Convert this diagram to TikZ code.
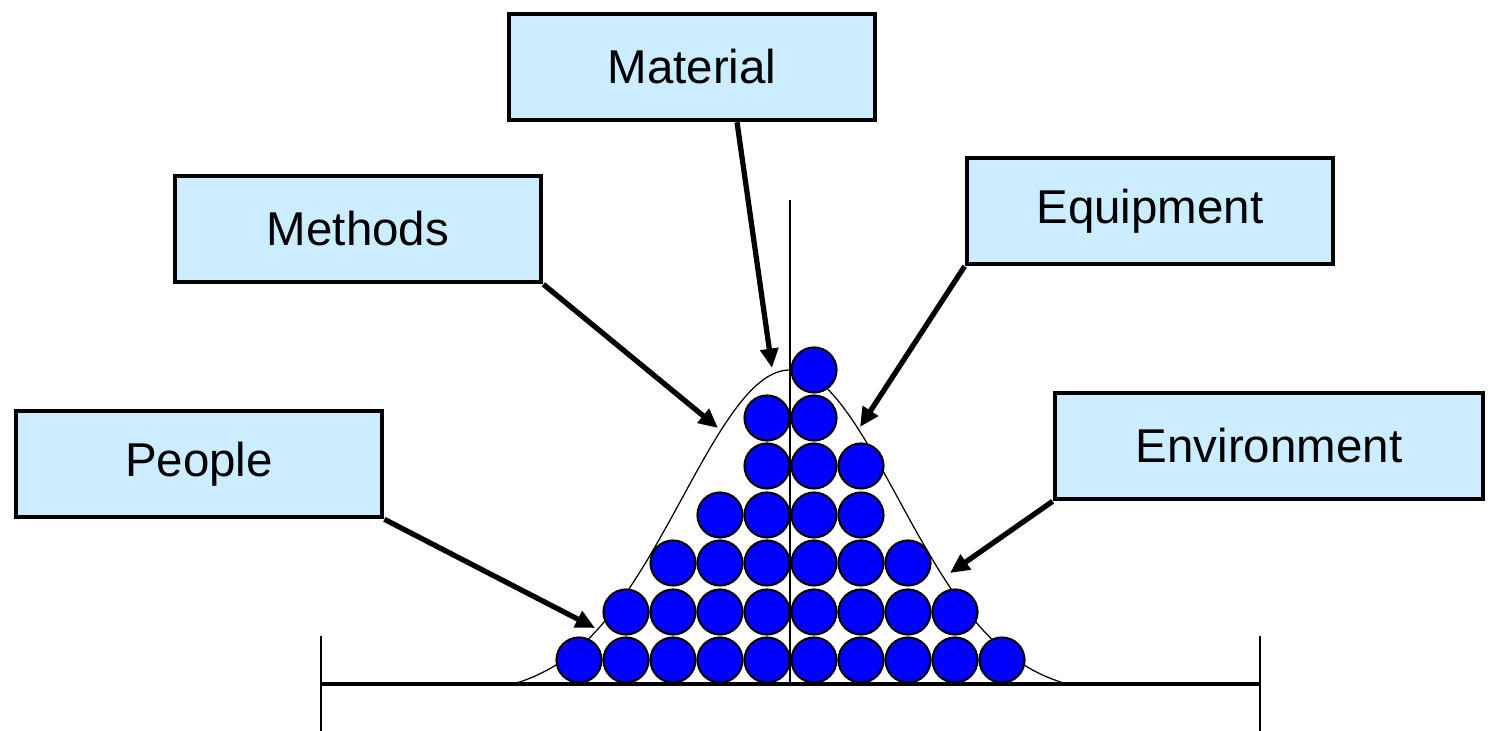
\documentclass[tikz,border=0pt]{standalone}
\usepackage{fontspec}
\setmainfont{Liberation Sans}
\usetikzlibrary{arrows.meta}
\definecolor{boxblue}{RGB}{204,236,255}

\begin{document}
\begin{tikzpicture}[x=0.01cm, y=-0.01cm,
  cause/.style={draw, line width=1.3pt, fill=boxblue, minimum width=3.66cm, minimum height=1.06cm, font=\fontsize{13.5}{16}\selectfont},
  ball/.style={circle, draw, line width=0.6pt, fill=blue, minimum size=0.45cm, inner sep=0pt},
  pointer/.style={line width=1.5pt, -{Triangle[length=5.5pt,width=5pt]}}]

\useasboundingbox (0,0) rectangle (1488,731);

%% bell curve
\draw[line width=0.35pt] plot[domain=-2.77:2.77, samples=121, smooth] ({790+100*\x}, {684-314*(exp(-\x*\x/2.3328)-0.0373)/(1-0.0373)});

%% axis
\draw[line width=0.9pt] (321,684) -- (1260,684);
\draw[line width=0.6pt] (321,636) -- (321,731);
\draw[line width=0.6pt] (1260,636) -- (1260,731);

%% balls
\node[ball] (r0c0) at (579,660) {};
\node[ball] (r0c1) at (626,660) {};
\node[ball] (r0c2) at (673,660) {};
\node[ball] (r0c3) at (720,660) {};
\node[ball] (r0c4) at (767,660) {};
\node[ball] (r0c5) at (814,660) {};
\node[ball] (r0c6) at (861,660) {};
\node[ball] (r0c7) at (908,660) {};
\node[ball] (r0c8) at (955,660) {};
\node[ball] (r0c9) at (1002,660) {};

\node[ball] (r1c1) at (626,612) {};
\node[ball] (r1c2) at (673,612) {};
\node[ball] (r1c3) at (720,612) {};
\node[ball] (r1c4) at (767,612) {};
\node[ball] (r1c5) at (814,612) {};
\node[ball] (r1c6) at (861,612) {};
\node[ball] (r1c7) at (908,612) {};
\node[ball] (r1c8) at (955,612) {};

\node[ball] (r2c2) at (673,563) {};
\node[ball] (r2c3) at (720,563) {};
\node[ball] (r2c4) at (767,563) {};
\node[ball] (r2c5) at (814,563) {};
\node[ball] (r2c6) at (861,563) {};
\node[ball] (r2c7) at (908,563) {};

\node[ball] (r3c3) at (720,515) {};
\node[ball] (r3c4) at (767,515) {};
\node[ball] (r3c5) at (814,515) {};
\node[ball] (r3c6) at (861,515) {};

\node[ball] (r4c4) at (767,466) {};
\node[ball] (r4c5) at (814,466) {};
\node[ball] (r4c6) at (861,466) {};

\node[ball] (r5c4) at (767,418) {};
\node[ball] (r5c5) at (814,418) {};

\node[ball] (r6c5) at (814,370) {};

%% centre line
\draw[line width=0.6pt] (790,200) -- (790,684);

%% causes
\node[cause] (material) at (692,67) {Material};
\node[cause] (methods) at (358,229) {Methods};
\node[cause] (equipment) at (1150,211) {Equipment};
\node[cause] (people) at (199,464) {People};
\node[cause, minimum width=4.28cm] (environment) at (1269,446) {Environment};

\coordinate (materialtip) at (772,368);
\coordinate (methodstip) at (718,428);
\coordinate (equipmenttip) at (860,427);
\coordinate (peopletip) at (595,628);
\coordinate (environmenttip) at (950,573);

\draw[pointer] ([xshift=0.45cm]material.south) -- (materialtip);
\draw[pointer] (methods.south east) -- (methodstip);
\draw[pointer] (equipment.south west) -- (equipmenttip);
\draw[pointer] (people.south east) -- (peopletip);
\draw[pointer] (environment.south west) -- (environmenttip);
\end{tikzpicture}
\end{document}
